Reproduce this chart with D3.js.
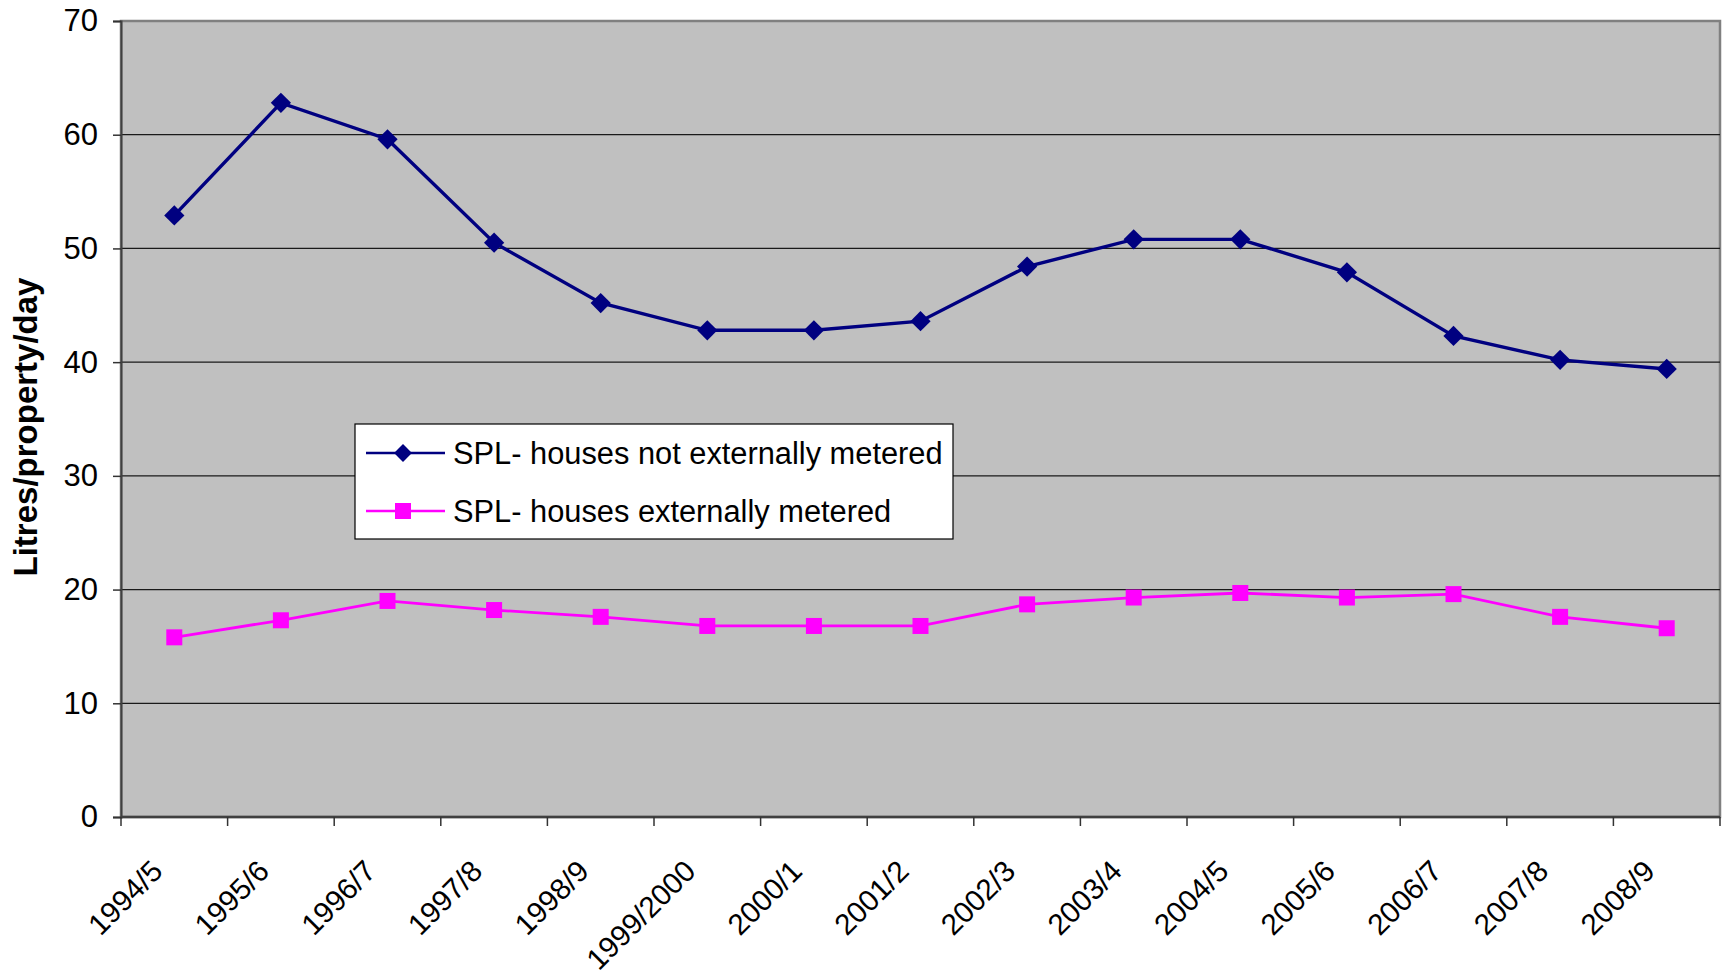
<!DOCTYPE html>
<html>
<head>
<meta charset="utf-8">
<script src="https://cdn.jsdelivr.net/npm/d3@7"></script>
<style>
  body { margin: 0; background: #fff; }
  svg text { font-family: "Liberation Sans", Arial, sans-serif; }
</style>
</head>
<body>
<script>
'use strict';

// categories and values
const years = ['1994/5', '1995/6', '1996/7', '1997/8', '1998/9', '1999/2000', '2000/1',
  '2001/2', '2002/3', '2003/4', '2004/5', '2005/6', '2006/7', '2007/8', '2008/9'];
const notMetered = [52.9, 62.8, 59.6, 50.5, 45.2, 42.8, 42.8, 43.6, 48.4, 50.8, 50.8, 47.9, 42.3, 40.2, 39.4];
const metered = [15.8, 17.3, 19.0, 18.2, 17.6, 16.8, 16.8, 16.8, 18.7, 19.3, 19.7, 19.3, 19.6, 17.6, 16.6];
const yTicks = [0, 10, 20, 30, 40, 50, 60, 70];
const seriesNames = ['SPL- houses not externally metered', 'SPL- houses externally metered'];

(function() {
  const W = 1729, H = 979;
  const left = 121, right = 1720, top = 21, bottom = 817;

  const svg = d3.select('body').append('svg')
    .attr('width', W)
    .attr('height', H);

  // scales
  const x = d3.scaleBand().domain(years).range([left, right]).padding(0);
  const cx = d => x(d) + x.bandwidth() / 2;
  const y = d3.scaleLinear().domain([0, 70]).range([bottom, top]);

  // plot background
  svg.append('rect')
    .attr('x', left).attr('y', top)
    .attr('width', right - left).attr('height', bottom - top)
    .attr('fill', '#C0C0C0')
    .attr('stroke', '#808080')
    .attr('stroke-width', 2.5);

  // gridlines
  svg.append('g').selectAll('line')
    .data(yTicks.filter(v => v > 0 && v < 70))
    .enter().append('line')
    .attr('x1', left).attr('x2', right)
    .attr('y1', d => y(d)).attr('y2', d => y(d))
    .attr('stroke', '#1a1a1a')
    .attr('stroke-width', 1.3);

  // y axis
  const yAxis = d3.axisLeft(y).tickValues(yTicks).tickSize(8).tickPadding(15);
  const gy = svg.append('g')
    .attr('transform', `translate(${left},0)`)
    .call(yAxis);
  gy.select('.domain').attr('stroke', '#404040').attr('stroke-width', 2);
  gy.selectAll('.tick line').attr('stroke', '#333').attr('stroke-width', 1.5);
  gy.selectAll('.tick text')
    .style('font-family', '"Liberation Sans", Arial, sans-serif')
    .style('font-size', '31px')
    .attr('fill', '#000');

  // x axis line and ticks at band edges
  svg.append('line')
    .attr('x1', left).attr('x2', right)
    .attr('y1', bottom).attr('y2', bottom)
    .attr('stroke', '#404040').attr('stroke-width', 2.5);

  const edges = years.map(d => x(d)).concat([right]);
  svg.append('g').selectAll('line')
    .data(edges)
    .enter().append('line')
    .attr('x1', d => d).attr('x2', d => d)
    .attr('y1', bottom).attr('y2', bottom + 9)
    .attr('stroke', '#333').attr('stroke-width', 1.5);

  // x labels rotated
  svg.append('g').selectAll('text')
    .data(years)
    .enter().append('text')
    .attr('transform', d => `translate(${cx(d) - 10},873) rotate(-45)`)
    .attr('text-anchor', 'end')
    .style('font-size', '29.5px')
    .text(d => d);

  // y axis title
  svg.append('text')
    .attr('transform', 'translate(37,427) rotate(-90)')
    .attr('text-anchor', 'middle')
    .style('font-size', '33px')
    .style('font-weight', 'bold')
    .text('Litres/property/day');

  // lines
  const line = d3.line()
    .x((d, i) => cx(years[i]))
    .y(d => y(d));

  svg.append('path')
    .datum(notMetered)
    .attr('d', line)
    .attr('fill', 'none')
    .attr('stroke', '#000080')
    .attr('stroke-width', 3.4);

  svg.append('path')
    .datum(metered)
    .attr('d', line)
    .attr('fill', 'none')
    .attr('stroke', '#FF00FF')
    .attr('stroke-width', 2.8);

  // markers
  const diamond = d3.symbol().type(d3.symbolSquare).size(205);
  svg.append('g').selectAll('path')
    .data(notMetered)
    .enter().append('path')
    .attr('d', diamond)
    .attr('transform', (d, i) => `translate(${cx(years[i])},${y(d)}) rotate(45)`)
    .attr('fill', '#000080');

  svg.append('g').selectAll('rect')
    .data(metered)
    .enter().append('rect')
    .attr('x', (d, i) => cx(years[i]) - 8)
    .attr('y', d => y(d) - 8)
    .attr('width', 16).attr('height', 16)
    .attr('fill', '#FF00FF');

  // legend
  const lg = svg.append('g').attr('transform', 'translate(355,424)');
  lg.append('rect')
    .attr('width', 598).attr('height', 115)
    .attr('fill', '#fff')
    .attr('stroke', '#000')
    .attr('stroke-width', 1.2);

  const rowY = [29, 87];
  const colors = ['#000080', '#FF00FF'];
  seriesNames.forEach(function(name, i) {
    lg.append('line')
      .attr('x1', 11).attr('x2', 90)
      .attr('y1', rowY[i]).attr('y2', rowY[i])
      .attr('stroke', colors[i]).attr('stroke-width', 2.5);
    if (i === 0) {
      lg.append('path')
        .attr('d', d3.symbol().type(d3.symbolSquare).size(160))
        .attr('transform', `translate(48,${rowY[i]}) rotate(45)`)
        .attr('fill', colors[i]);
    } else {
      lg.append('rect')
        .attr('x', 40).attr('y', rowY[i] - 8)
        .attr('width', 16).attr('height', 16)
        .attr('fill', colors[i]);
    }
    lg.append('text')
      .attr('x', 98).attr('y', rowY[i] + 11)
      .style('font-size', '30.8px')
      .text(name);
  });
})();
</script>
</body>
</html>
